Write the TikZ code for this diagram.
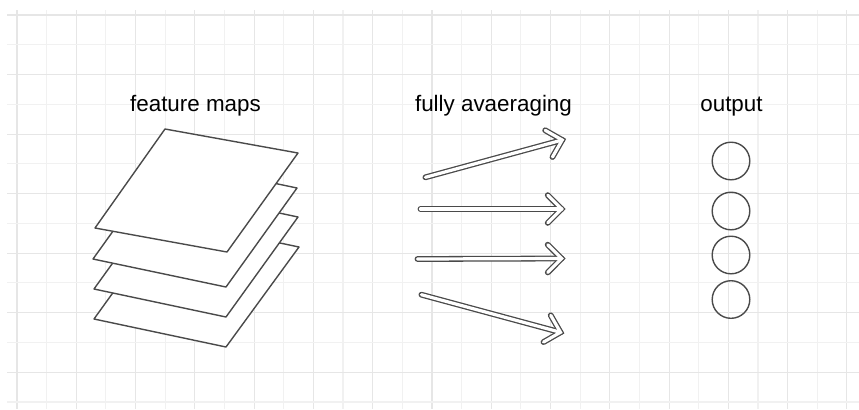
\documentclass[tikz,border=0pt]{standalone}
\usepackage{fontspec}
\setmainfont{Liberation Sans}
\usetikzlibrary{calc}
\definecolor{gridmajor}{HTML}{E6E6E6}
\definecolor{gridminor}{HTML}{F1F1F1}
\definecolor{inkgray}{HTML}{4A4A4A}
\tikzset{
  title/.style={font=\fontsize{11.2}{13}\selectfont, anchor=base, inner sep=0pt},
  fmap/.style={draw=inkgray, fill=white, line width=0.7pt, line join=round},
  unit/.style={circle, draw=inkgray, line width=0.7pt, minimum size=18.8pt, inner sep=0pt},
  shaft out/.style={draw=inkgray, line width=2.9pt, line cap=round, line join=miter},
  shaft in/.style={draw=white, line width=1.6pt, line cap=round, line join=miter}
}
\begin{document}
\begin{tikzpicture}[x=0.5pt,y=-0.5pt]
\useasboundingbox (0,0) rectangle (859,409);
% grid
\foreach \i in {0,...,28} {
  \pgfmathsetmacro\gx{17+\i*29.64}
  \ifodd\i \def\gc{gridminor}\else \def\gc{gridmajor}\fi
  \draw[color=\gc, line width=0.55pt] (\gx,10) -- (\gx,409);
}
\foreach \j in {0,...,13} {
  \pgfmathsetmacro\gy{15+\j*29.77}
  \ifodd\j \def\gc{gridminor}\else \def\gc{gridmajor}\fi
  \draw[color=\gc, line width=0.55pt] (7,\gy) -- (859,\gy);
}

% feature maps, back to front
\draw[fmap] (94,319) -- (226,347) -- (299,247) -- (166,219) -- cycle;
\draw[fmap] (94,289) -- (226,317) -- (298,217) -- (166,189) -- cycle;
\draw[fmap] (93,259) -- (226,287) -- (297,188) -- (164,160) -- cycle;
\draw[fmap] (95,228) -- (227,252) -- (298,153) -- (165,129) -- cycle;

% averaging arrows
\coordinate (t1) at (425.4,177.3);
\coordinate (h1) at (562.2,140);
\coordinate (t2) at (420.5,209);
\coordinate (h2) at (561.6,209);
\coordinate (t3) at (417.5,259);
\coordinate (h3) at (561.6,258.5);
\coordinate (t4) at (421.4,294.7);
\coordinate (h4) at (560.5,332.3);
\foreach \t/\h in {t1/h1,t2/h2,t3/h3,t4/h4} {
  \draw[shaft out] (\t) -- (\h);
  \draw[shaft out] ($(\h)!9.8pt!45:(\t)$) -- (\h) -- ($(\h)!9.8pt!-45:(\t)$);
  \draw[shaft in] (\t) -- (\h);
  \draw[shaft in] ($(\h)!9.8pt!45:(\t)$) -- (\h) -- ($(\h)!9.8pt!-45:(\t)$);
}

% output units
\node[unit] (o1) at (731,161) {};
\node[unit] (o2) at (731,211) {};
\node[unit] (o3) at (731,255) {};
\node[unit] (o4) at (731,299.5) {};

% titles
\node[title] (fm) at (195.5,111) {feature maps};
\node[title] (avg) at (493.5,111) {fully avaeraging};
\node[title] (out) at (731.5,111) {output};
\end{tikzpicture}
\end{document}
